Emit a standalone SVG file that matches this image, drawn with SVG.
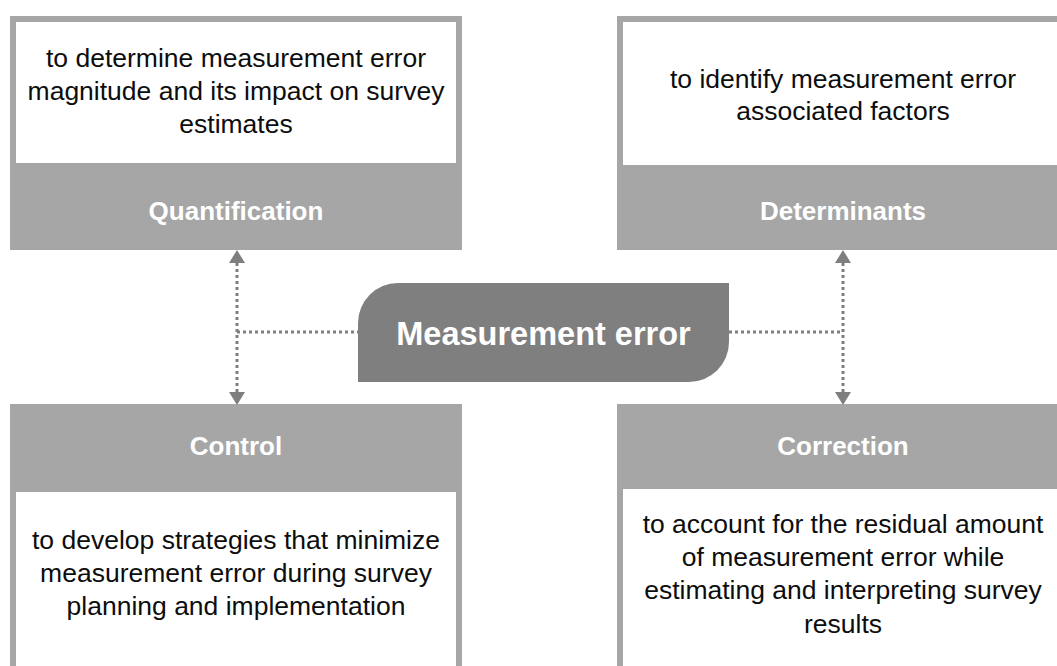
<svg xmlns="http://www.w3.org/2000/svg" width="1057" height="666" viewBox="0 0 1057 666">
<style>
.frame{fill:#a6a6a6}
.inner{fill:#ffffff}
.body{font-family:"Liberation Sans",Arial,sans-serif;font-size:26.5px;fill:#0d0d0d;text-anchor:middle}
.label{font-family:"Liberation Sans",Arial,sans-serif;font-size:26px;font-weight:bold;fill:#ffffff;text-anchor:middle}
.center{font-family:"Liberation Sans",Arial,sans-serif;font-size:32.5px;font-weight:bold;fill:#ffffff;text-anchor:middle}
.dot{stroke:#7f7f7f;stroke-width:3;stroke-dasharray:3 3;fill:none}
.head{fill:#7f7f7f}
</style>
<rect width="1057" height="666" fill="#ffffff"/>
<g id="quantification">
<rect class="frame" x="10" y="16" width="452" height="234"/>
<rect class="inner" x="16" y="22" width="440" height="141"/>
<text class="body" x="236" y="67">to determine measurement error</text>
<text class="body" x="236" y="100">magnitude and its impact on survey</text>
<text class="body" x="236" y="133">estimates</text>
<text class="label" x="236" y="220">Quantification</text>
</g>
<g id="determinants">
<rect class="frame" x="617" y="16" width="452" height="234"/>
<rect class="inner" x="623" y="22" width="440" height="143"/>
<text class="body" x="843" y="88">to identify measurement error</text>
<text class="body" x="843" y="120">associated factors</text>
<text class="label" x="843" y="220">Determinants</text>
</g>
<g id="control">
<rect class="frame" x="10" y="404" width="452" height="300"/>
<rect class="inner" x="16" y="492" width="440" height="200"/>
<text class="label" x="236" y="455">Control</text>
<text class="body" x="236" y="549">to develop strategies that minimize</text>
<text class="body" x="236" y="582">measurement error during survey</text>
<text class="body" x="236" y="615">planning and implementation</text>
</g>
<g id="correction">
<rect class="frame" x="617" y="404" width="452" height="300"/>
<rect class="inner" x="623" y="489" width="440" height="200"/>
<text class="label" x="843" y="455">Correction</text>
<text class="body" x="843" y="533">to account for the residual amount</text>
<text class="body" x="843" y="566">of measurement error while</text>
<text class="body" x="843" y="599">estimating and interpreting survey</text>
<text class="body" x="843" y="633">results</text>
</g>
<g id="connectors">
<path class="dot" d="M237 263 V392"/>
<path class="dot" d="M843 263 V392"/>
<path class="dot" d="M237 332 H358"/>
<path class="dot" d="M729 332 H843"/>
<polygon class="head" points="237,250 229,263 245,263"/>
<polygon class="head" points="237,405 229,392 245,392"/>
<polygon class="head" points="843,250 835,263 851,263"/>
<polygon class="head" points="843,405 835,392 851,392"/>
</g>
<g id="measurement-error">
<path d="M398 283 H729 V342 A40 40 0 0 1 689 382 H358 V323 A40 40 0 0 1 398 283 Z" fill="#7f7f7f"/>
<text class="center" x="543.5" y="345">Measurement error</text>
</g>
</svg>
